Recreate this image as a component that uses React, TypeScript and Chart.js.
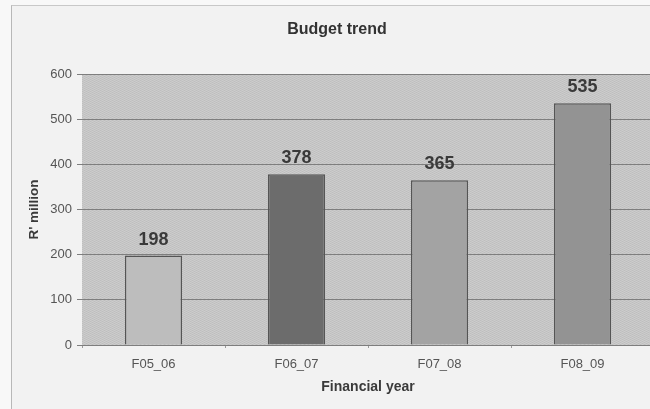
import React, { useEffect, useRef } from "react";
import { Chart, registerables } from "chart.js";

Chart.register(...registerables);

const categories = ["F05_06", "F06_07", "F07_08", "F08_09"];
const budgetValues = [198, 378, 365, 535];
const barColors = ["#bdbdbd", "#6c6c6c", "#a3a3a3", "#939393"];
const yTicks = [0, 100, 200, 300, 400, 500, 600];
const chartTitle = "Budget trend";
const yTitle = "R' million";
const xTitle = "Financial year";

function makePattern(ctx: CanvasRenderingContext2D) {
  const c = document.createElement("canvas");
  c.width = 4;
  c.height = 2;
  const p = c.getContext("2d")!;
  p.fillStyle = "#c6c6c6";
  p.fillRect(0, 0, 4, 2);
  p.fillStyle = "#bebebe";
  p.fillRect(0, 0, 1, 1);
  p.fillRect(2, 1, 1, 1);
  p.fillStyle = "#cdcdcd";
  p.fillRect(2, 0, 1, 1);
  p.fillRect(0, 1, 1, 1);
  return ctx.createPattern(c, "repeat");
}

const bgPlugin = {
  id: "plotBg",
  beforeDraw(chart: any) {
    const { ctx, chartArea } = chart;
    ctx.save();
    ctx.fillStyle = makePattern(ctx) || "#c6c6c6";
    ctx.fillRect(chartArea.left, chartArea.top, chartArea.right - chartArea.left, chartArea.bottom - chartArea.top);
    ctx.restore();
  },
};

const titlePlugin = {
  id: "customTitle",
  afterDraw(chart: any) {
    const { ctx } = chart;
    ctx.save();
    ctx.font = "bold 16px 'Liberation Sans', Arial, sans-serif";
    ctx.fillStyle = "#333333";
    ctx.textAlign = "center";
    ctx.textBaseline = "middle";
    ctx.fillText(chartTitle, 337, 30);
    ctx.restore();
  },
};

const labelPlugin = {
  id: "valueLabels",
  afterDatasetsDraw(chart: any) {
    const { ctx } = chart;
    const meta = chart.getDatasetMeta(0);
    ctx.save();
    ctx.font = "bold 18px 'Liberation Sans', Arial, sans-serif";
    ctx.fillStyle = "#3a3a3a";
    ctx.textAlign = "center";
    ctx.textBaseline = "alphabetic";
    meta.data.forEach((el: any, i: number) => {
      ctx.fillText(String(budgetValues[i]), el.x, el.y - 11);
    });
    ctx.restore();
  },
};

export default function App() {
  const ref = useRef<HTMLCanvasElement>(null);
  useEffect(() => {
    if (!ref.current) return;
    const chart = new Chart(ref.current, {
      type: "bar",
      data: {
        labels: categories,
        datasets: [
          {
            data: budgetValues,
            backgroundColor: barColors,
            borderColor: "#555555",
            borderWidth: 1.5,
            categoryPercentage: 1,
            barPercentage: 0.4,
          },
        ],
      },
      options: {
        animation: false,
        responsive: false,
        devicePixelRatio: 1,
        layout: { padding: { top: 74, right: 6, bottom: 0, left: 0 } },
        plugins: {
          legend: { display: false },
          title: { display: false },
          tooltip: { enabled: false },
        },
        scales: {
          x: {
            afterFit: (s: any) => {
              s.height = 64;
            },
            grid: {
              display: true,
              drawOnChartArea: false,
              drawTicks: true,
              tickLength: 3,
              color: "#9a9a9a",
              offset: true,
            },
            border: { display: false },
            ticks: {
              color: "#555555",
              font: { family: "'Liberation Sans', Arial, sans-serif", size: 13 },
              padding: 9,
            },
            title: {
              display: true,
              text: xTitle,
              color: "#3a3a3a",
              font: { family: "'Liberation Sans', Arial, sans-serif", size: 14, weight: "bold" },
              padding: { top: 0, bottom: 13 },
            },
          },
          y: {
            min: 0,
            max: 600,
            afterFit: (s: any) => {
              s.width = 82;
            },
            afterBuildTicks: (s: any) => {
              s.ticks = yTicks.map((v) => ({ value: v }));
            },
            grid: {
              color: "#7e7e7e",
              lineWidth: 1,
              drawTicks: true,
              tickLength: 5,
            },
            border: { display: false },
            ticks: {
              color: "#555555",
              font: { family: "'Liberation Sans', Arial, sans-serif", size: 13 },
              padding: 5,
            },
            title: {
              display: true,
              text: yTitle,
              color: "#3a3a3a",
              font: { family: "'Liberation Sans', Arial, sans-serif", size: 13.5, weight: "bold" },
              padding: { top: 26, bottom: 0 },
            },
          },
        },
      },
      plugins: [bgPlugin, labelPlugin, titlePlugin],
    });
    return () => chart.destroy();
  }, []);

  return (
    <div
      style={{
        position: "fixed",
        left: 0,
        top: 0,
        width: 650,
        height: 409,
        overflow: "hidden",
        background: "#f8f8f8",
      }}
    >
      <div
        style={{
          position: "absolute",
          left: 11,
          top: 5,
          width: 700,
          height: 500,
          borderLeft: "1px solid #b8b8b8",
          borderTop: "1px solid #c8c8c8",
          background: "#f2f2f2",
        }}
      />
      <canvas
        ref={ref}
        width={660}
        height={409}
        style={{ position: "absolute", left: 0, top: 0, width: 660, height: 409 }}
      />
    </div>
  );
}
